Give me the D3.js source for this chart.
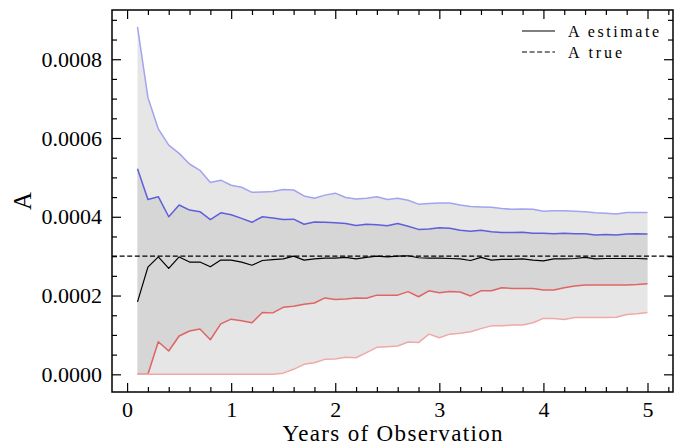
<!DOCTYPE html>
<html>
<head>
<meta charset="utf-8">
<script src="https://cdn.jsdelivr.net/npm/d3@7/dist/d3.min.js"></script>
<style>
  html, body { margin: 0; padding: 0; background: #ffffff; }
  svg { display: block; }
  svg text { font-family: "Liberation Serif", "DejaVu Serif", serif !important; }
</style>
</head>
<body>
<svg id="chart" width="686" height="445"></svg>
<script>
// ---- Data ----
const years = [0.1,0.2,0.3,0.4,0.5,0.6,0.7,0.8,0.9,1.0,
  1.1,1.2,1.3,1.4,1.5,1.6,1.7,1.8,1.9,2.0,
  2.1,2.2,2.3,2.4,2.5,2.6,2.7,2.8,2.9,3.0,
  3.1,3.2,3.3,3.4,3.5,3.6,3.7,3.8,3.9,4.0,
  4.1,4.2,4.3,4.4,4.5,4.6,4.7,4.8,4.9,5.0];

const outerUpper = [0.000882,0.000703,0.000623,0.000582,0.000561,0.000534,0.000518,0.000487,0.000493,0.000480,
  0.000475,0.000462,0.000463,0.000464,0.000469,0.000468,0.000453,0.000447,0.000455,0.000460,
  0.000449,0.000445,0.000447,0.000451,0.000444,0.000447,0.000442,0.000432,0.000434,0.000435,
  0.000435,0.000430,0.000426,0.000425,0.000424,0.000421,0.000419,0.000420,0.000419,0.000414,
  0.000415,0.000415,0.000414,0.000413,0.000410,0.000409,0.000407,0.000411,0.000411,0.000411];

const innerUpper = [0.000522,0.000444,0.000451,0.000400,0.000430,0.000417,0.000413,0.000393,0.000410,0.000405,
  0.000396,0.000386,0.000400,0.000397,0.000393,0.000394,0.000381,0.000387,0.000386,0.000385,
  0.000383,0.000378,0.000381,0.000380,0.000377,0.000383,0.000376,0.000368,0.000369,0.000372,
  0.000371,0.000366,0.000363,0.000366,0.000362,0.000360,0.000360,0.000361,0.000358,0.000358,
  0.000357,0.000358,0.000357,0.000357,0.000354,0.000355,0.000354,0.000356,0.000357,0.000356];

const estimate = [0.000184,0.000272,0.000298,0.000269,0.000298,0.000285,0.000285,0.000273,0.000290,0.000290,
  0.000285,0.000277,0.000289,0.000291,0.000293,0.000300,0.000290,0.000293,0.000295,0.000295,
  0.000297,0.000293,0.000297,0.000300,0.000298,0.000300,0.000301,0.000296,0.000295,0.000295,
  0.000294,0.000293,0.000289,0.000297,0.000290,0.000292,0.000292,0.000293,0.000290,0.000288,
  0.000293,0.000293,0.000294,0.000297,0.000293,0.000294,0.000294,0.000294,0.000294,0.000293];

const innerLower = [0,0,0.0000828,0.0000591,0.0000972,0.000110,0.000115,0.0000878,0.000128,0.000140,
  0.000136,0.000131,0.000157,0.000156,0.000170,0.000173,0.000178,0.000181,0.000194,0.000190,
  0.000191,0.000194,0.000193,0.000201,0.000201,0.000201,0.000210,0.000197,0.000212,0.000207,
  0.000210,0.000209,0.000199,0.000212,0.000212,0.000220,0.000218,0.000218,0.000218,0.000214,
  0.000214,0.000220,0.000224,0.000227,0.000227,0.000227,0.000227,0.000227,0.000228,0.000230];

const outerLower = [0,0,0,0,0,0,0,0,0,0,
  0,0,0,0,0.000003,0.0000127,0.0000254,0.0000295,0.000038,0.0000388,
  0.0000431,0.000042,0.0000549,0.0000685,0.000070,0.0000718,0.000082,0.0000805,0.000102,0.000093,
  0.000102,0.000104,0.000108,0.000116,0.000123,0.000123,0.000125,0.000125,0.000131,0.000142,
  0.000142,0.000139,0.000144,0.000144,0.000144,0.000144,0.000145,0.000152,0.000154,0.000157];

const trueValue = 0.0003;

const xMajorTicks = [0,1,2,3,4,5];
const xMinorTicks = [0.2,0.4,0.6,0.8,1.2,1.4,1.6,1.8,2.2,2.4,2.6,2.8,3.2,3.4,3.6,3.8,4.2,4.4,4.6,4.8,5.2];
const yMajorTicks = [0,0.0002,0.0004,0.0006,0.0008];
const yMinorTicks = [0.00005,0.0001,0.00015,0.00025,0.0003,0.00035,0.00045,0.0005,0.00055,0.00065,0.0007,0.00075,0.00085,0.0009];

const legendLabels = ["A estimate", "A true"];
const xLabel = "Years of Observation";
const yLabel = "A";

// ---- Layout ----
const L = 112, R = 673, T = 10, B = 392;
const FONT = '"Liberation Serif", "DejaVu Serif", serif';

const svg = d3.select("#chart");
const x = d3.scaleLinear().domain([-0.145, 5.245]).range([L, R]);
const y = d3.scaleLinear().domain([-0.0000449, 0.000925]).range([B, T]);

const rows = years.map((yr, i) => ({
  x: yr, ou: outerUpper[i], iu: innerUpper[i], est: estimate[i], il: innerLower[i], ol: outerLower[i]
}));

const plot = svg.append("g");

// bands
plot.append("path").datum(rows)
  .attr("fill", "#e6e6e6")
  .attr("d", d3.area().x(d => x(d.x)).y0(d => y(d.ol)).y1(d => y(d.ou)));
plot.append("path").datum(rows)
  .attr("fill", "#d6d6d6")
  .attr("d", d3.area().x(d => x(d.x)).y0(d => y(d.il)).y1(d => y(d.iu)));

const series = [
  { key: "ou", color: "#a3a3f0", w: 1.5 },
  { key: "iu", color: "#5f5fdc", w: 1.5 },
  { key: "il", color: "#e06464", w: 1.5 },
  { key: "ol", color: "#f0a8a8", w: 1.5 },
  { key: "est", color: "#000000", w: 1.2 }
];
series.forEach(s => {
  plot.append("path").datum(rows)
    .attr("fill", "none")
    .attr("stroke", s.color)
    .attr("stroke-width", s.w)
    .attr("stroke-linejoin", "round")
    .attr("d", d3.line().x(d => x(d.x)).y(d => y(d[s.key])));
});

// true line
plot.append("line")
  .attr("x1", L).attr("x2", R)
  .attr("y1", y(trueValue)).attr("y2", y(trueValue))
  .attr("stroke", "#000").attr("stroke-width", 1.1)
  .attr("stroke-dasharray", "5,2.6");

// ---- Axes ----
function styleAxis(g, withText) {
  g.attr("font-family", null);
  g.select(".domain").remove();
  g.selectAll(".tick line").attr("stroke", "#000").attr("stroke-width", 1.2);
  if (withText) {
    g.selectAll(".tick text").style("font-family", FONT).attr("font-size", 22).attr("fill", "#000");
  } else {
    g.selectAll(".tick text").remove();
  }
}
const fmt = d3.format(".4f");

svg.append("g").attr("transform", `translate(0,${B})`)
  .call(d3.axisBottom(x).tickValues(xMajorTicks).tickSize(-9).tickPadding(9).tickFormat(d3.format("d")))
  .call(g => styleAxis(g, true));
svg.append("g").attr("transform", `translate(0,${B})`)
  .call(d3.axisBottom(x).tickValues(xMinorTicks).tickSize(-5))
  .call(g => styleAxis(g, false));
svg.append("g").attr("transform", `translate(0,${T})`)
  .call(d3.axisTop(x).tickValues(xMajorTicks).tickSize(-9))
  .call(g => styleAxis(g, false));
svg.append("g").attr("transform", `translate(0,${T})`)
  .call(d3.axisTop(x).tickValues(xMinorTicks).tickSize(-5))
  .call(g => styleAxis(g, false));

svg.append("g").attr("transform", `translate(${L},0)`)
  .call(d3.axisLeft(y).tickValues(yMajorTicks).tickSize(-9).tickPadding(10).tickFormat(fmt))
  .call(g => styleAxis(g, true));
svg.append("g").attr("transform", `translate(${L},0)`)
  .call(d3.axisLeft(y).tickValues(yMinorTicks).tickSize(-5))
  .call(g => styleAxis(g, false));
svg.append("g").attr("transform", `translate(${R},0)`)
  .call(d3.axisRight(y).tickValues(yMajorTicks).tickSize(-9))
  .call(g => styleAxis(g, false));
svg.append("g").attr("transform", `translate(${R},0)`)
  .call(d3.axisRight(y).tickValues(yMinorTicks).tickSize(-5))
  .call(g => styleAxis(g, false));

// frame
svg.append("rect")
  .attr("x", L).attr("y", T).attr("width", R - L).attr("height", B - T)
  .attr("fill", "none").attr("stroke", "#000").attr("stroke-width", 1.5);

// axis labels
svg.append("text")
  .attr("x", (L + R) / 2).attr("y", 441)
  .attr("text-anchor", "middle")
  .style("font-family", FONT).attr("font-size", 23)
  .attr("textLength", 220).attr("lengthAdjust", "spacing")
  .text(xLabel);
svg.append("text")
  .attr("transform", `translate(31,${(T + B) / 2}) rotate(-90)`)
  .attr("text-anchor", "middle")
  .style("font-family", FONT).attr("font-size", 25)
  .text(yLabel);

// legend
const legend = svg.append("g");
const legY = [31, 52];
const legLens = [91, 54];
legendLabels.forEach((lab, i) => {
  legend.append("line")
    .attr("x1", 522).attr("x2", 555).attr("y1", legY[i]).attr("y2", legY[i])
    .attr("stroke", "#000").attr("stroke-width", 1.2)
    .attr("stroke-dasharray", i === 1 ? "5,2.6" : null);
  legend.append("text")
    .attr("x", 568).attr("y", legY[i] + 5.5)
    .style("font-family", FONT).attr("font-size", 16)
    .attr("textLength", legLens[i]).attr("lengthAdjust", "spacing")
    .text(lab);
});
</script>
</body>
</html>
